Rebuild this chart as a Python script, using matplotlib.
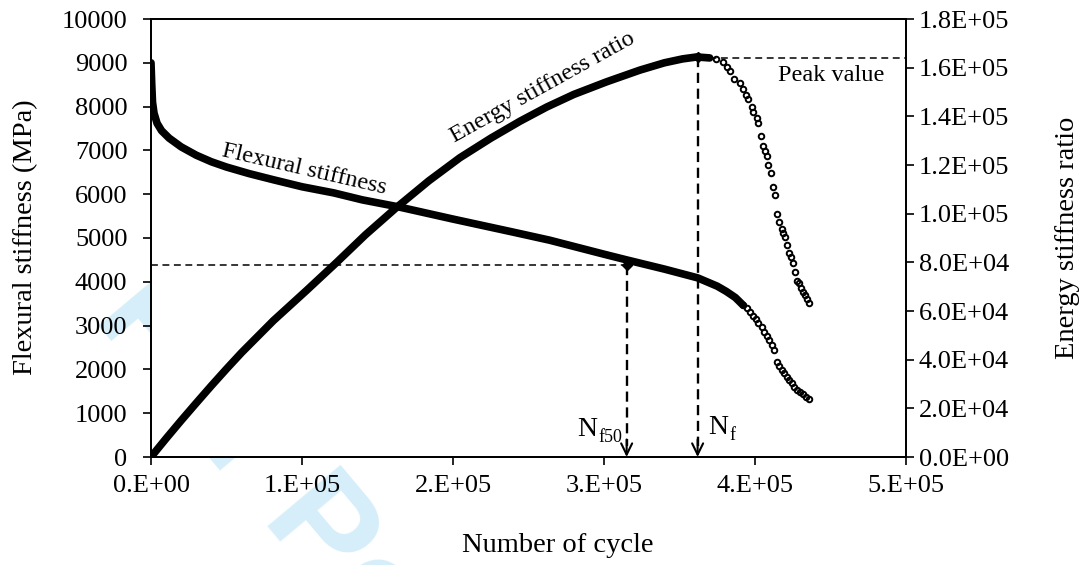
import matplotlib
matplotlib.use("Agg")
import matplotlib.pyplot as plt

plt.rcParams['font.family'] = ['Liberation Serif', 'DejaVu Serif']

# ---- flexural stiffness (MPa), densely sampled part ----
flex_cycles = [0, 500, 1000, 2000, 4000, 7000, 12000, 20000, 30000, 40000,
               50000, 65000, 81000, 100000, 121000, 140000, 164000, 200000,
               240000, 264000, 300000, 315000, 340000, 362000, 375000, 381000,
               387000, 392000]
flex_values = [9000, 8500, 8100, 7850, 7620, 7450, 7280, 7080, 6890, 6740,
               6620, 6470, 6330, 6170, 6030, 5870, 5710, 5432,
               5133, 4950, 4630, 4500, 4290, 4090, 3900, 3780,
               3640, 3470]

# ---- flexural stiffness, sparse tail ----
flex_tail_cycles = [392250, 394500, 396700, 398900, 400700, 402200, 404400,
                    406000, 407700, 409500, 411000, 412800, 414400, 416100,
                    417700, 419400, 421000, 422700, 424300, 425800, 427600,
                    429800, 431600, 433800, 436000]
flex_tail_values = [3470, 3395, 3318, 3219, 3144, 3066, 2961, 2861, 2763,
                    2671, 2557, 2443, 2176, 2078, 1986, 1911, 1833, 1758,
                    1682, 1605, 1530, 1491, 1438, 1377, 1317]

# ---- energy stiffness ratio, densely sampled part ----
esr_cycles = [0, 10000, 20000, 30000, 40000, 50000, 60000, 81000, 103100,
              123000, 142000, 162700, 184000, 204600, 225000, 244400, 262000,
              280000, 301800, 323800, 340000, 352000, 361400, 370000]
esr_values = [0, 7600, 15000, 22200, 29300, 36200, 42900, 56000, 68500,
              80000, 91300, 102600, 113500, 123000, 131000, 138000, 143800,
              149000, 154200, 159000, 162000, 163600, 164400, 164000]

# ---- energy stiffness ratio, sparse tail ----
esr_tail_cycles = [374000, 378800, 381250, 383450, 386300, 390100, 392300,
                   394000, 395600, 397800, 398900, 401100, 402200, 403800,
                   405100, 406600, 407700, 408800, 410400, 411700, 413200,
                   414800, 416100, 417700, 418700, 419900, 421000, 422500,
                   423600, 425000, 426500, 427600, 428900, 430300, 431600,
                   433100, 434600, 435800]
esr_tail_values = [163400, 162300, 160400, 158600, 155200, 153600, 151100,
                   148800, 147000, 144000, 141900, 139200, 137400, 131900,
                   127800, 125900, 123700, 120000, 116800, 111100, 107700,
                   99900, 96700, 93600, 92200, 90500, 87100, 84000, 82100,
                   79900, 76200, 72500, 71600, 69300, 67900, 66600, 64800,
                   63400]

# ---- characteristic points ----
nf50_cycles = 315000
nf50_stiffness = 4380
nf_cycles = 362000
peak_ratio = 164400
peak_line = 163800

x_ticks = [0, 100000, 200000, 300000, 400000, 500000]
x_tick_labels = ['0.E+00', '1.E+05', '2.E+05', '3.E+05', '4.E+05', '5.E+05']
left_ticks = list(range(0, 10001, 1000))
right_ticks = [0, 20000, 40000, 60000, 80000, 100000, 120000, 140000, 160000, 180000]
right_tick_labels = ['0.0E+00', '2.0E+04', '4.0E+04', '6.0E+04', '8.0E+04',
                     '1.0E+05', '1.2E+05', '1.4E+05', '1.6E+05', '1.8E+05']

FS = 19
TITLE_FS = 20.5
fig = plt.figure(figsize=(10.86, 5.65), dpi=100)

# faint review watermark behind the axes
fig.text(92 / 1086, 1 - 318 / 565, 'For Peer Review', fontsize=100,
         family='Liberation Sans', weight='bold',
         rotation=-50, rotation_mode='anchor', ha='left', va='baseline',
         color='#d6eefa', zorder=-5)

ax = fig.add_axes([151 / 1086, 1 - 457 / 565, 755 / 1086, 438 / 565])
ax.set_facecolor('white')
ax2 = ax.twinx()

ax.set_xlim(0, 500000)
ax.set_ylim(0, 10000)
ax2.set_ylim(0, 180000)

ax.set_xticks(x_ticks)
ax.set_xticklabels(x_tick_labels)
ax.set_yticks(left_ticks)
ax2.set_yticks(right_ticks)
ax2.set_yticklabels(right_tick_labels)

for a in (ax, ax2):
    for s in a.spines.values():
        s.set_linewidth(1.3)
    a.tick_params(direction='out', length=6, width=1.2, labelsize=FS, pad=3)
ax.tick_params(axis='x', pad=7)
ax.tick_params(axis='y', pad=11)

marker_style = dict(ls='none', marker='o', ms=4.0, mfc='none', mec='black',
                    mew=1.4, zorder=3)

# flexural stiffness
ax.plot(flex_cycles, flex_values, color='black', lw=5.5,
        solid_capstyle='round', solid_joinstyle='round', zorder=3)
ax.plot(flex_tail_cycles, flex_tail_values, **marker_style)

# energy stiffness ratio
ax2.plot(esr_cycles, esr_values, color='black', lw=5.5,
         solid_capstyle='round', solid_joinstyle='round', zorder=3)
ax2.plot(esr_tail_cycles, esr_tail_values, **marker_style)

arrow_props = dict(arrowstyle='->,head_length=0.45,head_width=0.22', lw=1.5,
                   color='black', shrinkA=0, shrinkB=0, mutation_scale=18)

# Nf50 guide lines
ax.plot([0, nf50_cycles], [nf50_stiffness, nf50_stiffness], color='black',
        lw=1.1, dashes=(4.5, 3.0))
ax.plot([nf50_cycles, nf50_cycles], [nf50_stiffness, 250], color='black',
        lw=1.7, dashes=(4.3, 2.4))
ax.plot([nf50_cycles], [nf50_stiffness], marker='D', ms=5, color='black')
ax.annotate('', xy=(nf50_cycles, 0), xytext=(nf50_cycles, 400),
            arrowprops=arrow_props)

# Nf / peak guide lines
ax2.plot([nf_cycles, 500000], [peak_line, peak_line], color='black', lw=1.1,
         dashes=(4.5, 3.0))
ax2.plot([nf_cycles, nf_cycles], [peak_ratio, 4500], color='black', lw=1.7,
         dashes=(4.3, 2.4))
ax2.plot([nf_cycles], [peak_ratio], marker='D', ms=5, color='black')
ax.annotate('', xy=(nf_cycles, 0), xytext=(nf_cycles, 400),
            arrowprops=arrow_props)

# labels on the curves
fig.text(304 / 1086, 1 - 170 / 565, 'Flexural stiffness', fontsize=17.5,
         rotation=-13, ha='center', va='center')
fig.text(543 / 1086, 1 - 88 / 565, 'Energy stiffness ratio', fontsize=17.5,
         rotation=29, ha='center', va='center')
fig.text(831 / 1086, 1 - 76 / 565, 'Peak value', fontsize=17.5,
         ha='center', va='center')

# N_f50 and N_f markers: main letter plus smaller subscript
fig.text(597 / 1086, 1 - 436 / 565, 'N', fontsize=20,
         ha='right', va='baseline')
fig.text(598 / 1086, 1 - 442 / 565, 'f50', fontsize=13,
         ha='left', va='baseline')
fig.text(708 / 1086, 1 - 434 / 565, 'N', fontsize=20,
         ha='left', va='baseline')
fig.text(729 / 1086, 1 - 440 / 565, 'f', fontsize=13,
         ha='left', va='baseline')

# axis titles
fig.text(558 / 1086, 1 - 545 / 565, 'Number of cycle', fontsize=TITLE_FS,
         ha='center', va='center')
fig.text(26 / 1086, 1 - 237 / 565, 'Flexural stiffness (MPa)',
         fontsize=TITLE_FS, rotation=90, ha='center', va='center')
fig.text(1068 / 1086, 1 - 238 / 565, 'Energy stiffness ratio',
         fontsize=TITLE_FS, rotation=90, ha='center', va='center')

fig.savefig('out.png', dpi=100)
